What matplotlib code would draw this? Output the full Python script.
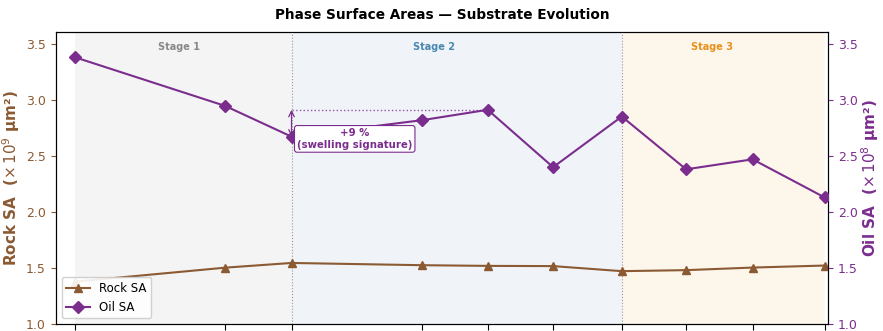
import matplotlib
matplotlib.use("Agg")
import matplotlib.pyplot as plt

# sampling points along the substrate evolution (no tick labels drawn)
steps = [0, 6.9, 9.95, 15.95, 18.95, 21.95, 25.1, 28.05, 31.1, 34.4]
rock_sa = [1.38, 1.505, 1.547, 1.527, 1.521, 1.519, 1.474, 1.483, 1.506, 1.524]   # x1e9 um^2
oil_sa = [3.38, 2.946, 2.672, 2.819, 2.911, 2.40, 2.851, 2.381, 2.470, 2.131]     # x1e8 um^2

stage_names = ['Stage 1', 'Stage 2', 'Stage 3']
stage_bounds = [(0, 2), (2, 6), (6, 9)]   # index ranges into steps
stage_label_x = [4.8, 16.5, 29.25]
stage_bg = ['#f4f4f4', '#f0f4f8', '#fdf6eb']
stage_fg = ['#888888', '#4a86b4', '#e8901c']

rock_col = '#8b5a33'
oil_col = '#7b2d8e'

fig = plt.figure(figsize=(8.83, 3.31), dpi=100)
ax = fig.add_axes([0.063, 0.020, 0.875, 0.882])
ax2 = ax.twinx()

# stage shading and separators
for name, (i0, i1), lx, bg, fg in zip(stage_names, stage_bounds, stage_label_x, stage_bg, stage_fg):
    ax.axvspan(steps[i0], steps[i1], color=bg, zorder=0, lw=0)
    ax.text(lx, 0.95, name, transform=ax.get_xaxis_transform(),
            ha='center', va='center', fontsize=7, fontweight='bold', color=fg)
for i in (2, 6):
    ax.axvline(steps[i], color='#999999', lw=0.8, ls=':', zorder=1)

l1, = ax.plot(steps, rock_sa, color=rock_col, marker='^', ms=6, lw=1.5, label='Rock SA', zorder=3)
l2, = ax2.plot(steps, oil_sa, color=oil_col, marker='D', ms=6, lw=1.5, label='Oil SA', zorder=3)

ax.set_xlim(-0.87, 34.57)
ax.set_ylim(1.0, 3.6)
ax2.set_ylim(1.0, 3.6)
ax.set_xticks(steps)
ax.set_xticklabels([])
ax.set_yticks([1.0, 1.5, 2.0, 2.5, 3.0, 3.5])
ax2.set_yticks([1.0, 1.5, 2.0, 2.5, 3.0, 3.5])
ax.tick_params(axis='y', colors=rock_col, labelsize=9)
ax2.tick_params(axis='y', colors=oil_col, labelsize=9)
ax.tick_params(axis='x', length=4)

ax.set_ylabel('Rock SA  ($\\times\\,10^9$ μm²)', color=rock_col, fontsize=11, fontweight='bold')
ax2.set_ylabel('Oil SA  ($\\times\\,10^8$ μm²)', color=oil_col, fontsize=11, fontweight='bold')
ax.yaxis.set_label_coords(-0.043, 0.5)
ax2.yaxis.set_label_coords(1.040, 0.5)
ax.set_title('Phase Surface Areas — Substrate Evolution', fontsize=9.8, fontweight='bold', pad=10)

# swelling annotation: min at stage boundary vs. stage-2 peak
lo, hi = oil_sa[2], oil_sa[4]
ax2.plot([steps[2], steps[4]], [hi, hi], color=oil_col, ls=':', lw=1, alpha=0.8)
ax2.annotate('', xy=(steps[2], hi), xytext=(steps[2], lo),
             arrowprops=dict(arrowstyle='<->', color=oil_col, lw=0.9, shrinkA=0, shrinkB=0))
pct = (hi / lo - 1) * 100
ax2.text(steps[2] + 2.9, lo - 0.02, '+%d %%\n(swelling signature)' % round(pct),
         ha='center', va='center', fontsize=7.3, fontweight='bold', color=oil_col,
         bbox=dict(boxstyle='round,pad=0.25', fc='white', ec=oil_col, lw=0.8), zorder=5)

ax.set_zorder(ax2.get_zorder() - 1)
ax2.patch.set_visible(False)
leg = ax.legend(handles=[l1, l2], loc='lower left', fontsize=8.5, framealpha=0.9)
# move legend onto the top axis so it isn't hidden under the oil line
leg.remove()
ax2.add_artist(leg)

fig.savefig('out.png', dpi=100)
